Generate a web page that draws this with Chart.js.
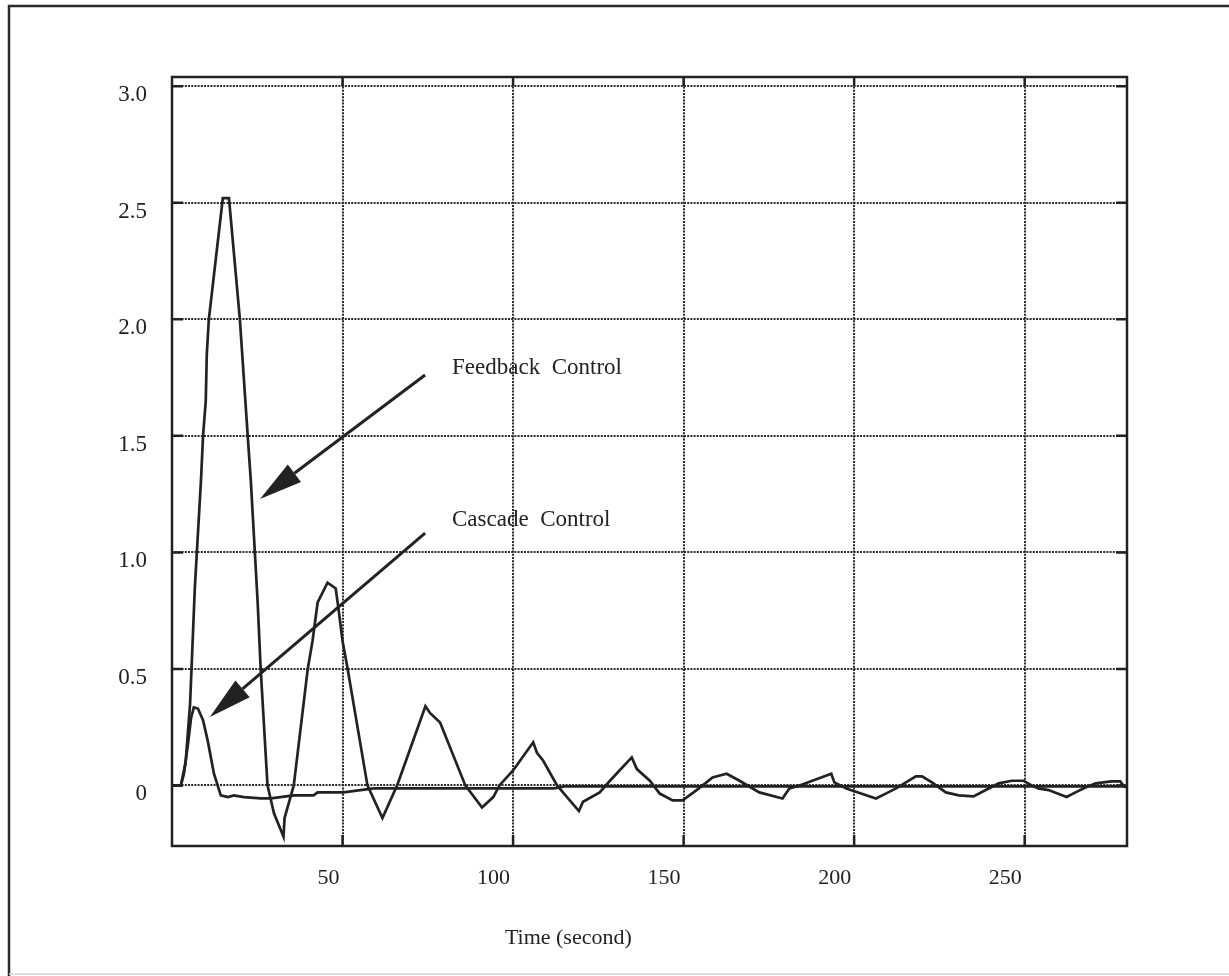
<!DOCTYPE html>
<html>
<head>
<meta charset="utf-8">
<title>Feedback vs cascade control response</title>
<script src="https://cdn.jsdelivr.net/npm/chart.js@4.4.1/dist/chart.umd.min.js"></script>
<style>
  html, body { margin: 0; padding: 0; background: #fff; }
  #wrap { width: 1229px; height: 976px; }
</style>
</head>
<body>
<div id="wrap"><canvas id="responseChart" width="1229" height="976"></canvas></div>
<script>
// Response of the controlled variable (time in seconds)
const feedbackTime = [0, 2.6, 4.0, 5.3, 6.0, 6.7, 8.5, 9.1, 9.9, 10.2, 10.8, 14.9, 16.7, 19.9, 22.2, 23.1,
  25.1, 26.0, 28.0, 29.9, 32.7, 33.0, 35.7, 39.8, 41.2, 42.7, 45.6, 48.0, 48.8, 50.0, 51.5, 57.3,
  61.7, 66.0, 74.3, 75.7, 78.6, 86.0, 90.9, 94.2, 96.0, 100.0, 105.9, 107.0, 108.8, 112.9, 119.3,
  120.5, 125.4, 128.4, 134.8, 136.3, 140.1, 143.0, 146.8, 149.7, 153.8, 158.5, 162.6, 166.4, 172.2,
  179.0, 181.0, 184.0, 193.3, 194.2, 197.7, 206.4, 209.4, 212.3, 218.1, 219.9, 222.8, 226.9, 230.7,
  235.0, 238.6, 242.4, 246.2, 249.7, 252.0, 254.0, 257.0, 262.3, 264.9, 267.8, 270.8, 275.4, 278.0, 279.5];
const feedbackValue = [0, 0, 0.1, 0.35, 0.6, 0.85, 1.31, 1.5, 1.65, 1.85, 2.0, 2.52, 2.52, 2.0, 1.5, 1.31,
  0.79, 0.5, 0, -0.12, -0.22, -0.14, 0, 0.5, 0.62, 0.785, 0.87, 0.845, 0.76, 0.62, 0.5, 0,
  -0.14, 0, 0.34, 0.31, 0.27, 0, -0.095, -0.05, 0, 0.064, 0.185, 0.14, 0.107, 0, -0.11,
  -0.07, -0.03, 0.02, 0.12, 0.07, 0.02, -0.035, -0.064, -0.064, -0.02, 0.034, 0.05, 0.02, -0.03,
  -0.056, -0.013, 0, 0.05, 0.013, -0.013, -0.056, -0.034, -0.013, 0.039, 0.039, 0.013, -0.03, -0.043,
  -0.047, -0.02, 0.009, 0.02, 0.02, 0, -0.013, -0.02, -0.05, -0.03, -0.009, 0.009, 0.017, 0.017, -0.01];

const cascadeTime = [0, 2.6, 3.5, 4.7, 5.6, 6.4, 7.6, 9.1, 10.5, 12.3, 14.3, 16.4, 18.1, 21.1, 26.0,
  29.0, 35.7, 41.5, 42.7, 50.3, 59.1, 112.0, 115.0, 280.0];
const cascadeValue = [0, 0, 0.05, 0.18, 0.29, 0.335, 0.33, 0.28, 0.19, 0.05, -0.043, -0.05, -0.043, -0.05, -0.056,
  -0.056, -0.043, -0.043, -0.03, -0.03, -0.013, -0.013, -0.004, -0.004];

const xTickValues = [50, 100, 150, 200, 250];
const yTickValues = [0, 0.5, 1.0, 1.5, 2.0, 2.5, 3.0];
const xAxisTitle = 'Time (second)';

// Callout labels with arrows, in data units
const callouts = [
  { text: 'Feedback  Control', at: [82.1, 1.79], tail: [74.2, 1.761], tip: [25.8, 1.229] },
  { text: 'Cascade  Control', at: [82.1, 1.139], tail: [74.2, 1.083], tip: [11.1, 0.294] }
];

const ink = '#222';
const serif = "'Liberation Serif', 'Times New Roman', serif";

const toPoints = (xs, ys) => xs.map((x, i) => ({ x: x, y: ys[i] }));

function drawArrow(ctx, x0, y0, x1, y1) {
  const headLen = 43, headHalf = 11;
  const ang = Math.atan2(y1 - y0, x1 - x0);
  const bx = x1 - headLen * Math.cos(ang), by = y1 - headLen * Math.sin(ang);
  ctx.beginPath();
  ctx.moveTo(x0, y0);
  ctx.lineTo(bx, by);
  ctx.stroke();
  ctx.beginPath();
  ctx.moveTo(x1, y1);
  ctx.lineTo(bx + headHalf * Math.sin(ang), by - headHalf * Math.cos(ang));
  ctx.lineTo(bx - headHalf * Math.sin(ang), by + headHalf * Math.cos(ang));
  ctx.closePath();
  ctx.fill();
}

const decorations = {
  id: 'decorations',
  beforeDraw(chart) {
    const ctx = chart.ctx;
    ctx.save();
    ctx.fillStyle = '#fff';
    ctx.fillRect(0, 0, chart.width, chart.height);
    // page frame
    ctx.strokeStyle = '#2b2b2b';
    ctx.lineWidth = 2.5;
    ctx.beginPath();
    ctx.moveTo(9, chart.height);
    ctx.lineTo(9, 6);
    ctx.lineTo(chart.width, 6);
    ctx.stroke();
    ctx.strokeStyle = '#d4d4d4';
    ctx.lineWidth = 1.5;
    ctx.beginPath();
    ctx.moveTo(9, chart.height - 2);
    ctx.lineTo(chart.width, chart.height - 2);
    ctx.stroke();
    ctx.restore();
  },
  afterDatasetsDraw(chart) {
    const ctx = chart.ctx;
    const { left, right, top, bottom } = chart.chartArea;
    const xs = chart.scales.x, ys = chart.scales.y;
    ctx.save();
    ctx.strokeStyle = ink;
    ctx.fillStyle = ink;

    // plot frame
    ctx.lineWidth = 2.5;
    ctx.strokeRect(left, top, right - left, bottom - top);

    // inward tick marks
    ctx.beginPath();
    yTickValues.forEach(v => {
      const y = ys.getPixelForValue(v);
      ctx.moveTo(left, y); ctx.lineTo(left + 11, y);
      ctx.moveTo(right, y); ctx.lineTo(right - 11, y);
    });
    xTickValues.forEach(v => {
      const x = xs.getPixelForValue(v);
      ctx.moveTo(x, top); ctx.lineTo(x, top + 9);
      ctx.moveTo(x, bottom); ctx.lineTo(x, bottom - 11);
    });
    ctx.stroke();

    // callouts
    ctx.lineWidth = 3;
    ctx.font = '23px ' + serif;
    ctx.textAlign = 'left';
    ctx.textBaseline = 'middle';
    callouts.forEach(c => {
      drawArrow(ctx,
        xs.getPixelForValue(c.tail[0]), ys.getPixelForValue(c.tail[1]),
        xs.getPixelForValue(c.tip[0]), ys.getPixelForValue(c.tip[1]));
      ctx.fillText(c.text, xs.getPixelForValue(c.at[0]), ys.getPixelForValue(c.at[1]));
    });

    // axis title
    ctx.font = '22px ' + serif;
    ctx.textAlign = 'center';
    ctx.fillText(xAxisTitle, left + 0.415 * (right - left), bottom + 92);
    ctx.restore();
  }
};

const lineStyle = {
  borderColor: ink,
  borderWidth: 2.7,
  pointRadius: 0,
  fill: false,
  tension: 0
};

const gridStyle = { color: '#2a2a2a', lineWidth: 2, drawTicks: false };
const gridDash = { display: false, dash: [2, 1.2] };

new Chart(document.getElementById('responseChart'), {
  type: 'line',
  data: {
    datasets: [
      Object.assign({ label: 'Feedback Control', data: toPoints(feedbackTime, feedbackValue) }, lineStyle),
      Object.assign({ label: 'Cascade Control', data: toPoints(cascadeTime, cascadeValue) }, lineStyle)
    ]
  },
  options: {
    responsive: false,
    animation: false,
    layout: { padding: { top: 77, right: 102, bottom: 0, left: 0 } },
    plugins: {
      legend: { display: false },
      tooltip: { enabled: false }
    },
    scales: {
      x: {
        type: 'linear',
        min: 0,
        max: 280,
        afterBuildTicks: s => { s.ticks = xTickValues.map(v => ({ value: v })); },
        afterFit: s => { s.height = 130; },
        grid: gridStyle,
        border: gridDash,
        ticks: {
          color: ink,
          font: { family: serif, size: 22 },
          align: 'end',
          padding: 19,
          labelOffset: -3,
          maxRotation: 0
        }
      },
      y: {
        type: 'linear',
        min: -0.26,
        max: 3.04,
        afterBuildTicks: s => { s.ticks = yTickValues.map(v => ({ value: v })); },
        afterFit: s => { s.width = 172; },
        grid: gridStyle,
        border: gridDash,
        ticks: {
          color: ink,
          font: { family: serif, size: 23 },
          padding: 25,
          labelOffset: 9,
          callback: v => (v === 0 ? '0' : v.toFixed(1))
        }
      }
    }
  },
  plugins: [decorations]
});
</script>
</body>
</html>
